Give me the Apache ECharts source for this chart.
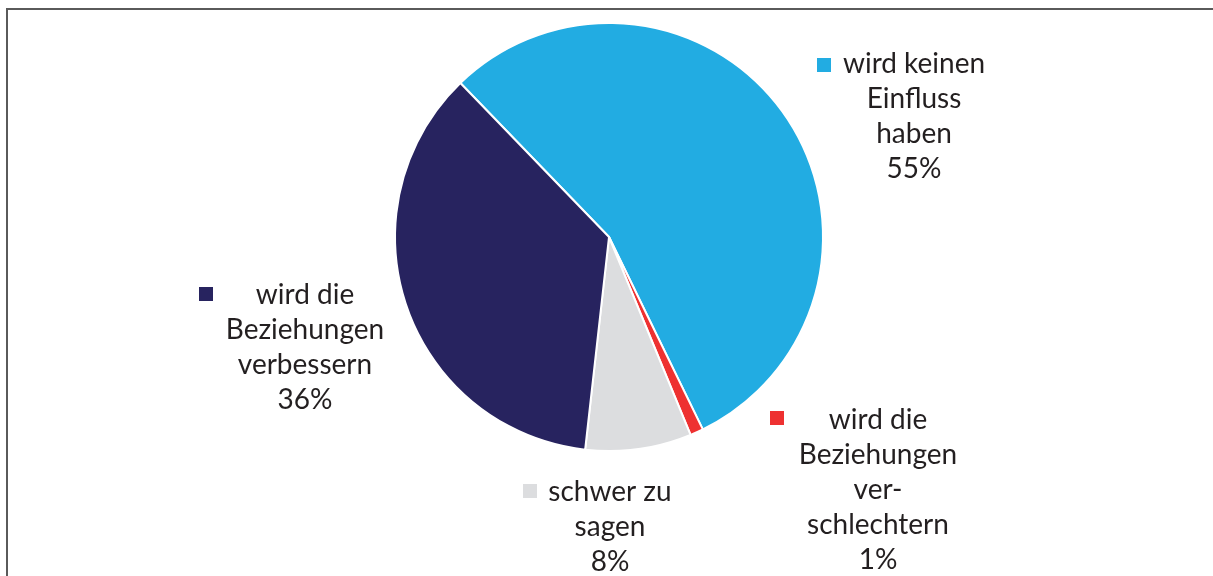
<!DOCTYPE html>
<html>
<head>
<meta charset="utf-8">
<script src="https://cdn.jsdelivr.net/npm/echarts@6/dist/echarts.min.js"></script>
<style>
  html, body { margin: 0; padding: 0; background: #fff; }
  #chart { width: 1213px; height: 576px; }
</style>
</head>
<body>
<div id="chart"></div>
<script>
// Kategorien und Anteile (im Uhrzeigersinn)
var categories = [
    'wird keinen\nEinfluss\nhaben',
    'wird die\nBeziehungen\nver-\nschlechtern',
    'schwer zu\nsagen',
    'wird die\nBeziehungen\nverbessern'
];
var shares = [55, 1, 8, 36];
var colors = ['#22ace2', '#ee3131', '#dcdddf', '#27235f'];

// Position der Beschriftungen (Mitte der Textblöcke, Oberkante)
var labelPos = [[914, 46], [878, 402], [610, 474], [305, 277]];
// Position der kleinen Quadrate
var keyPos = [[817, 58], [770, 411], [523, 484], [199, 287]];

var chart = echarts.init(document.getElementById('chart'));

var legends = categories.map(function (c, i) {
    return {
        data: [c],
        left: keyPos[i][0],
        top: keyPos[i][1],
        padding: 0,
        icon: 'rect',
        itemWidth: 14,
        itemHeight: 14,
        itemStyle: { borderWidth: 0 },
        selectedMode: false,
        formatter: function () { return ''; },
        textStyle: { fontSize: 1 }
    };
});

var option = {
    animation: false,
    color: colors,
    legend: legends,
    graphic: [
        {
            type: 'polyline',
            shape: { points: [[7, 576], [7, 9], [1213, 9]] },
            style: { stroke: '#5a5a5a', lineWidth: 2, fill: null }
        }
    ],
    series: [
        {
            type: 'pie',
            center: [609, 237],
            radius: 214,
            startAngle: 134,
            clockwise: true,
            avoidLabelOverlap: false,
            itemStyle: { borderColor: '#fff', borderWidth: 2 },
            label: {
                show: true,
                position: 'outside',
                formatter: function (p) { return p.name + '\n' + p.value + '%'; },
                fontFamily: 'Lato',
                fontSize: 28,
                lineHeight: 35,
                color: '#231f20',
                align: 'center'
            },
            labelLine: { show: false },
            labelLayout: function (p) {
                return {
                    x: labelPos[p.dataIndex][0],
                    y: labelPos[p.dataIndex][1],
                    align: 'center',
                    verticalAlign: 'top'
                };
            },
            emphasis: { disabled: true },
            data: categories.map(function (c, i) {
                return { name: c, value: shares[i] };
            })
        }
    ]
};
chart.setOption(option);
</script>
</body>
</html>
